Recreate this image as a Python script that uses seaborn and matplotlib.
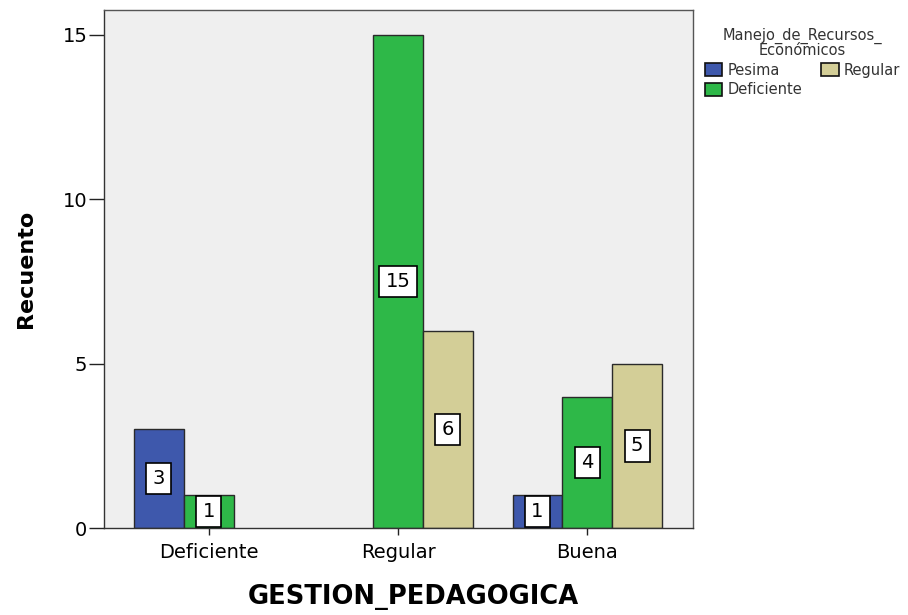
import matplotlib
matplotlib.use("Agg")
import matplotlib.pyplot as plt
import seaborn as sns
import pandas as pd
from matplotlib.patches import Patch

# Counts by pedagogical management level and economic-resource management
gestion = ["Deficiente", "Deficiente", "Regular", "Regular", "Buena", "Buena", "Buena"]
manejo = ["Pesima", "Deficiente", "Deficiente", "Regular", "Pesima", "Deficiente", "Regular"]
recuento = [3, 1, 15, 6, 1, 4, 5]

categorias = ["Deficiente", "Regular", "Buena"]
niveles = ["Pesima", "Deficiente", "Regular"]
colores = ["#3E58AC", "#2EB848", "#D3CE97"]
yticks = [0, 5, 10, 15]

df = pd.DataFrame({"GESTION_PEDAGOGICA": gestion,
                   "Manejo": manejo,
                   "Recuento": recuento})

sns.set_style("white")
plt.rcParams["font.family"] = ["DejaVu Sans"]
plt.rcParams.update({"text.color": "black", "axes.labelcolor": "black",
                     "xtick.color": "black", "ytick.color": "black"})

fig = plt.figure(figsize=(9.08, 6.15), dpi=100)
ax = fig.add_axes([104 / 908, 1 - 528 / 615, 589 / 908, 518 / 615])
ax.set_facecolor("#EFEFEF")

sns.barplot(data=df, x="GESTION_PEDAGOGICA", y="Recuento", hue="Manejo",
            order=categorias, hue_order=niveles, palette=colores,
            width=0.79, gap=0, edgecolor="#2A2A2A", linewidth=1.0,
            saturation=1, errorbar=None, legend=False, ax=ax)

# value boxes at the middle of each bar
for cont in ax.containers:
    for bar in cont:
        h = bar.get_height()
        if h and h > 0:
            ax.text(bar.get_x() + bar.get_width() / 2, h / 2, f"{int(h)}",
                    ha="center", va="center", fontsize=14, color="black",
                    bbox=dict(boxstyle="square,pad=0.32", fc="white",
                              ec="black", lw=1.2))

ax.set_xlim(-0.553, 2.558)
ax.set_ylim(0, 15.76)
ax.set_yticks(yticks)
ax.set_yticklabels([str(t) for t in yticks])
ax.tick_params(axis="both", which="both", direction="out", width=1,
               color="#222222", labelsize=14, bottom=True, left=True)
ax.tick_params(axis="y", length=11, pad=1)
ax.tick_params(axis="x", length=5, pad=6)
for s in ax.spines.values():
    s.set_color("#555555")
    s.set_linewidth(1.0)
ax.spines["left"].set_color("#333333")
ax.spines["bottom"].set_color("#333333")

ax.set_xlabel("GESTION_PEDAGOGICA", fontsize=18.5, fontweight="bold")
ax.set_ylabel("Recuento", fontsize=16, fontweight="bold")
ax.xaxis.set_label_coords((413 - 104) / 589, (528 - 584) / 518)
ax.yaxis.set_label_coords((36 - 104) / 589, 0.5)

handles = [Patch(facecolor=c, edgecolor="#111111", lw=1.2, label=n)
           for c, n in zip(colores, niveles)]
leg = fig.legend(handles=handles, title="Manejo_de_Recursos_\nEconómicos",
                 loc="upper left", bbox_to_anchor=(696 / 908, 1 - 19 / 615),
                 ncol=2, frameon=False, fontsize=10.5, title_fontsize=10.5,
                 handlelength=1.2, handleheight=1.0, handletextpad=0.35,
                 columnspacing=1.3, labelspacing=0.3, borderpad=0.1)
leg.get_title().set_multialignment("center")
leg.get_title().set_linespacing(0.95)
leg.get_title().set_color("#333333")
for t in leg.get_texts():
    t.set_color("#333333")

fig.savefig("out.png", dpi=100)
